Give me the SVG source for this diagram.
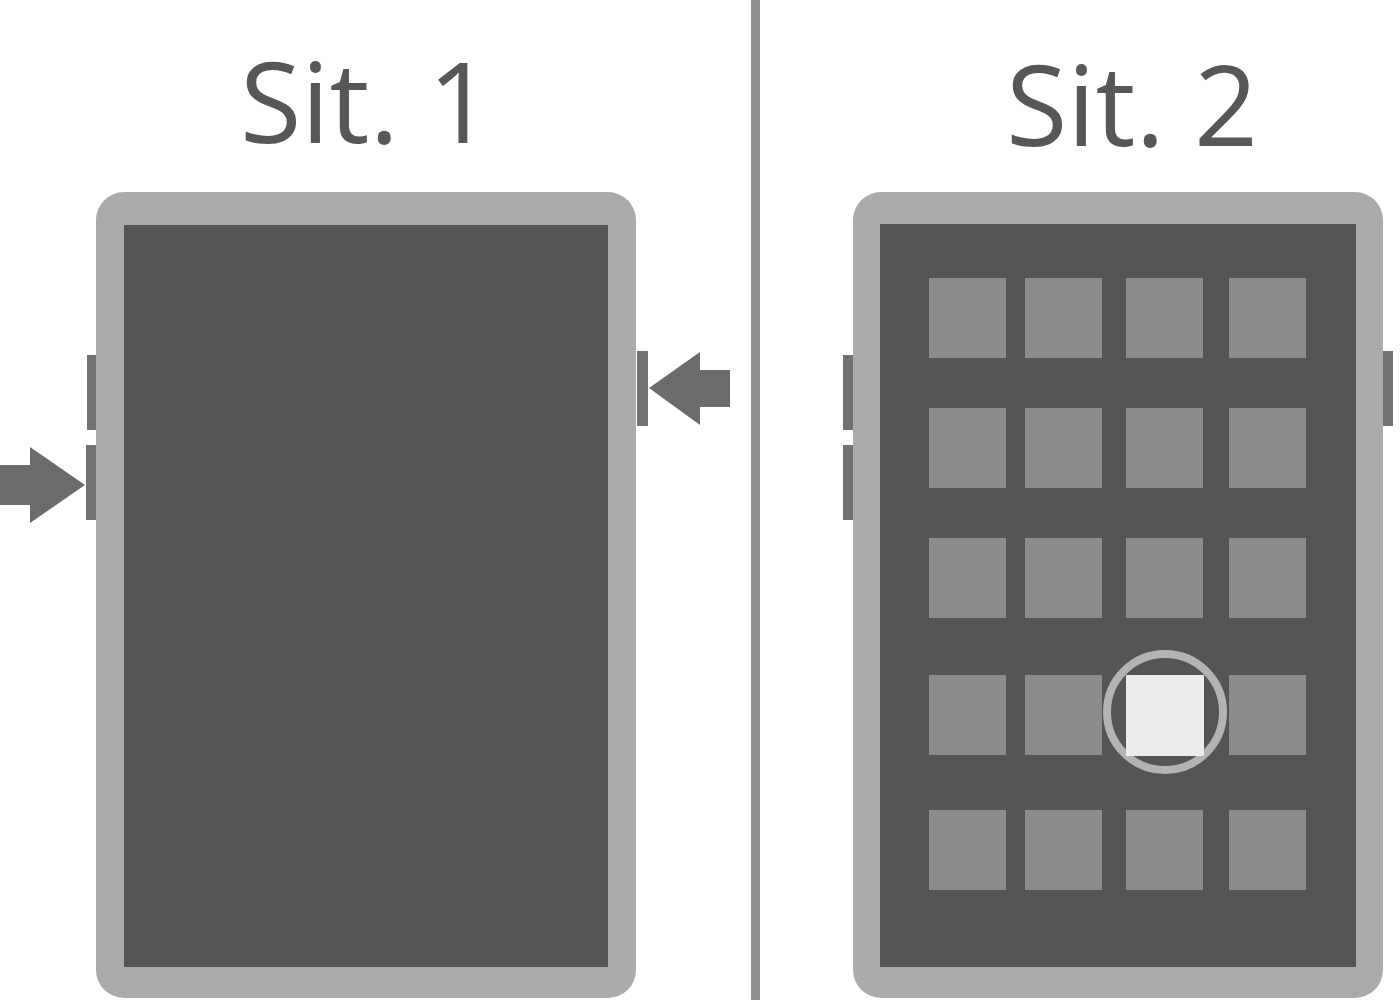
<svg xmlns="http://www.w3.org/2000/svg" width="1400" height="1000" viewBox="0 0 1400 1000">
<style>
.title{font-family:"Open Sans","Noto Sans","Liberation Sans",sans-serif;font-size:112px;fill:#575757;text-anchor:middle}
.frame{fill:#ababab}
.screen{fill:#555555}
.btn{fill:#727272}
.arrow{fill:#6b6b6b}
.tile{fill:#8c8c8c}
</style>
<rect width="1400" height="1000" fill="#ffffff"/>
<rect x="751" y="0" width="9" height="1000" fill="#8e8e8e"/>
<g id="title1"><text class="title" x="366" y="143">Sit. 1</text></g>
<g id="title2"><text class="title" x="1132" y="146">Sit. 2</text></g>
<g id="phone1">
<rect class="btn" x="87" y="355" width="10" height="75"/>
<rect class="btn" x="86" y="445" width="11" height="75"/>
<rect class="btn" x="637" y="351" width="11" height="75"/>
<rect class="frame" x="96" y="192" width="540" height="806" rx="28"/>
<rect class="screen" x="124" y="225" width="484" height="742"/>
</g>
<g id="phone2">
<rect class="btn" x="843" y="355" width="11" height="75"/>
<rect class="btn" x="843" y="445" width="11" height="75"/>
<rect class="btn" x="1383" y="351" width="10" height="75"/>
<rect class="frame" x="853" y="192" width="530" height="806" rx="28"/>
<rect class="screen" x="880" y="224" width="476" height="743"/>
<g id="tiles">
<rect class="tile" x="929" y="278" width="77" height="80"/>
<rect class="tile" x="1025" y="278" width="77" height="80"/>
<rect class="tile" x="1126" y="278" width="77" height="80"/>
<rect class="tile" x="1229" y="278" width="77" height="80"/>
<rect class="tile" x="929" y="408" width="77" height="80"/>
<rect class="tile" x="1025" y="408" width="77" height="80"/>
<rect class="tile" x="1126" y="408" width="77" height="80"/>
<rect class="tile" x="1229" y="408" width="77" height="80"/>
<rect class="tile" x="929" y="538" width="77" height="80"/>
<rect class="tile" x="1025" y="538" width="77" height="80"/>
<rect class="tile" x="1126" y="538" width="77" height="80"/>
<rect class="tile" x="1229" y="538" width="77" height="80"/>
<rect class="tile" x="929" y="675" width="77" height="80"/>
<rect class="tile" x="1025" y="675" width="77" height="80"/>
<rect class="tile" x="1229" y="675" width="77" height="80"/>
<rect class="tile" x="929" y="810" width="77" height="80"/>
<rect class="tile" x="1025" y="810" width="77" height="80"/>
<rect class="tile" x="1126" y="810" width="77" height="80"/>
<rect class="tile" x="1229" y="810" width="77" height="80"/>
</g>
<g id="selected">
<circle cx="1165" cy="712" r="58" fill="#555555" stroke="#b3b3b3" stroke-width="8"/>
<rect x="1126" y="675" width="78" height="81" fill="#ececec"/>
</g>
</g>
<g id="connectors">
<polygon class="arrow" points="0,465 30,465 30,447 85,485 30,523 30,505 0,505"/>
<polygon class="arrow" points="730,370 700,370 700,352 649,388 700,425 700,407 730,407"/>
</g>
</svg>
